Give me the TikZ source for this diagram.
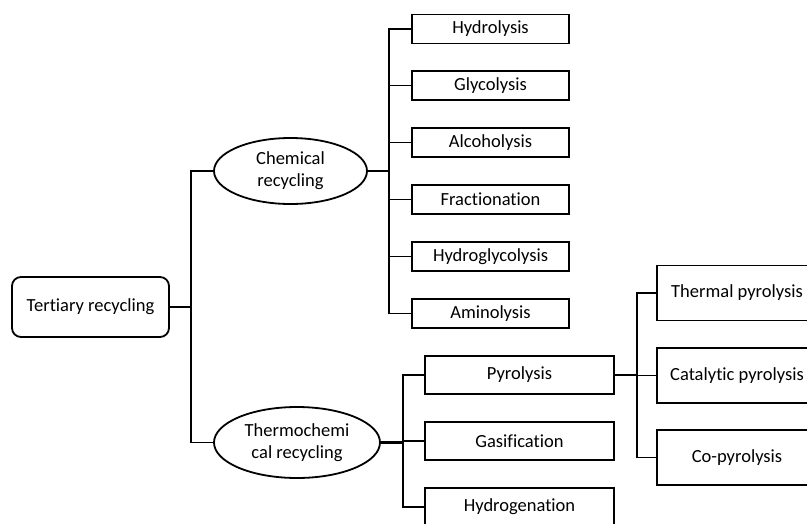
\documentclass[tikz,border=0pt]{standalone}
\usepackage{fontspec}
\setmainfont{Carlito}[RawFeature={-liga;-clig}]
\usetikzlibrary{shapes.geometric}
\begin{document}
\begin{tikzpicture}[x=1pt,y=-1pt,
  every node/.style={font=\fontsize{18.5}{22}\selectfont, inner sep=0pt, align=center},
  boxa/.style={draw, line width=1.8pt, minimum width=157pt, minimum height=29pt},
  boxb/.style={draw, line width=1.8pt, minimum width=189pt, minimum height=38pt},
  boxc/.style={draw, line width=1.8pt, minimum width=160pt, minimum height=55pt},
  oval/.style={draw, ellipse, line width=1.8pt},
  conn/.style={line width=1.8pt, line join=miter},
  stub/.style={line width=2.8pt}]
\useasboundingbox (0,0) rectangle (807,523);
\fill[white] (0,0) rectangle (807,523);

\node[draw, line width=1.8pt, rounded corners=9pt, minimum width=157pt, minimum height=60pt] (tr) at (90.5,307) {Tertiary recycling};

\node[oval, minimum width=153pt, minimum height=66pt] (chem) at (290.5,171) {Chemical\\recycling};
\node[oval, minimum width=166pt, minimum height=71pt] (therm) at (297,442.5) {Thermochemi\\cal recycling};

\node[boxa] (hyd) at (490.5,29) {Hydrolysis};
\node[boxa] (gly) at (490.5,85.5) {Glycolysis};
\node[boxa] (alc) at (490.5,142.5) {Alcoholysis};
\node[boxa] (fra) at (490.5,199.5) {Fractionation};
\node[boxa] (hgl) at (490.5,256.5) {Hydroglycolysis};
\node[boxa] (ami) at (490.5,313.5) {Aminolysis};

\node[boxb] (pyr) at (519.5,375) {Pyrolysis};
\node[boxb] (gas) at (519.5,441) {Gasification};
\node[boxb] (hyg) at (519.5,507) {Hydrogenation};

\node[boxc] (thp) at (737,293) {Thermal pyrolysis};
\node[boxc] (cap) at (737,375.5) {Catalytic pyrolysis};
\node[boxc] (cop) at (737,457.5) {Co-pyrolysis};

% tertiary -> chemical / thermochemical
\coordinate (j1) at (191,307);
\draw[stub] (tr.east) -- (j1);
\draw[conn] (j1) |- (chem.west);
\draw[conn] (j1) |- (therm.west);

% chemical -> children
\coordinate (j2) at (389,171);
\draw[stub] (chem.east) -- (j2);
\foreach \b in {hyd,gly,alc,fra,hgl,ami}
  \draw[conn] (j2) |- (\b.west);

% thermochemical -> children
\coordinate (j3) at (403,442.5);
\draw[stub] (therm.east) -- (j3);
\foreach \b in {pyr,gas,hyg}
  \draw[conn] (j3) |- (\b.west);

% pyrolysis -> children
\coordinate (j4) at (637,375);
\draw[stub] (pyr.east) -- (j4);
\foreach \b in {thp,cap,cop}
  \draw[conn] (j4) |- (\b.west);
\end{tikzpicture}
\end{document}
